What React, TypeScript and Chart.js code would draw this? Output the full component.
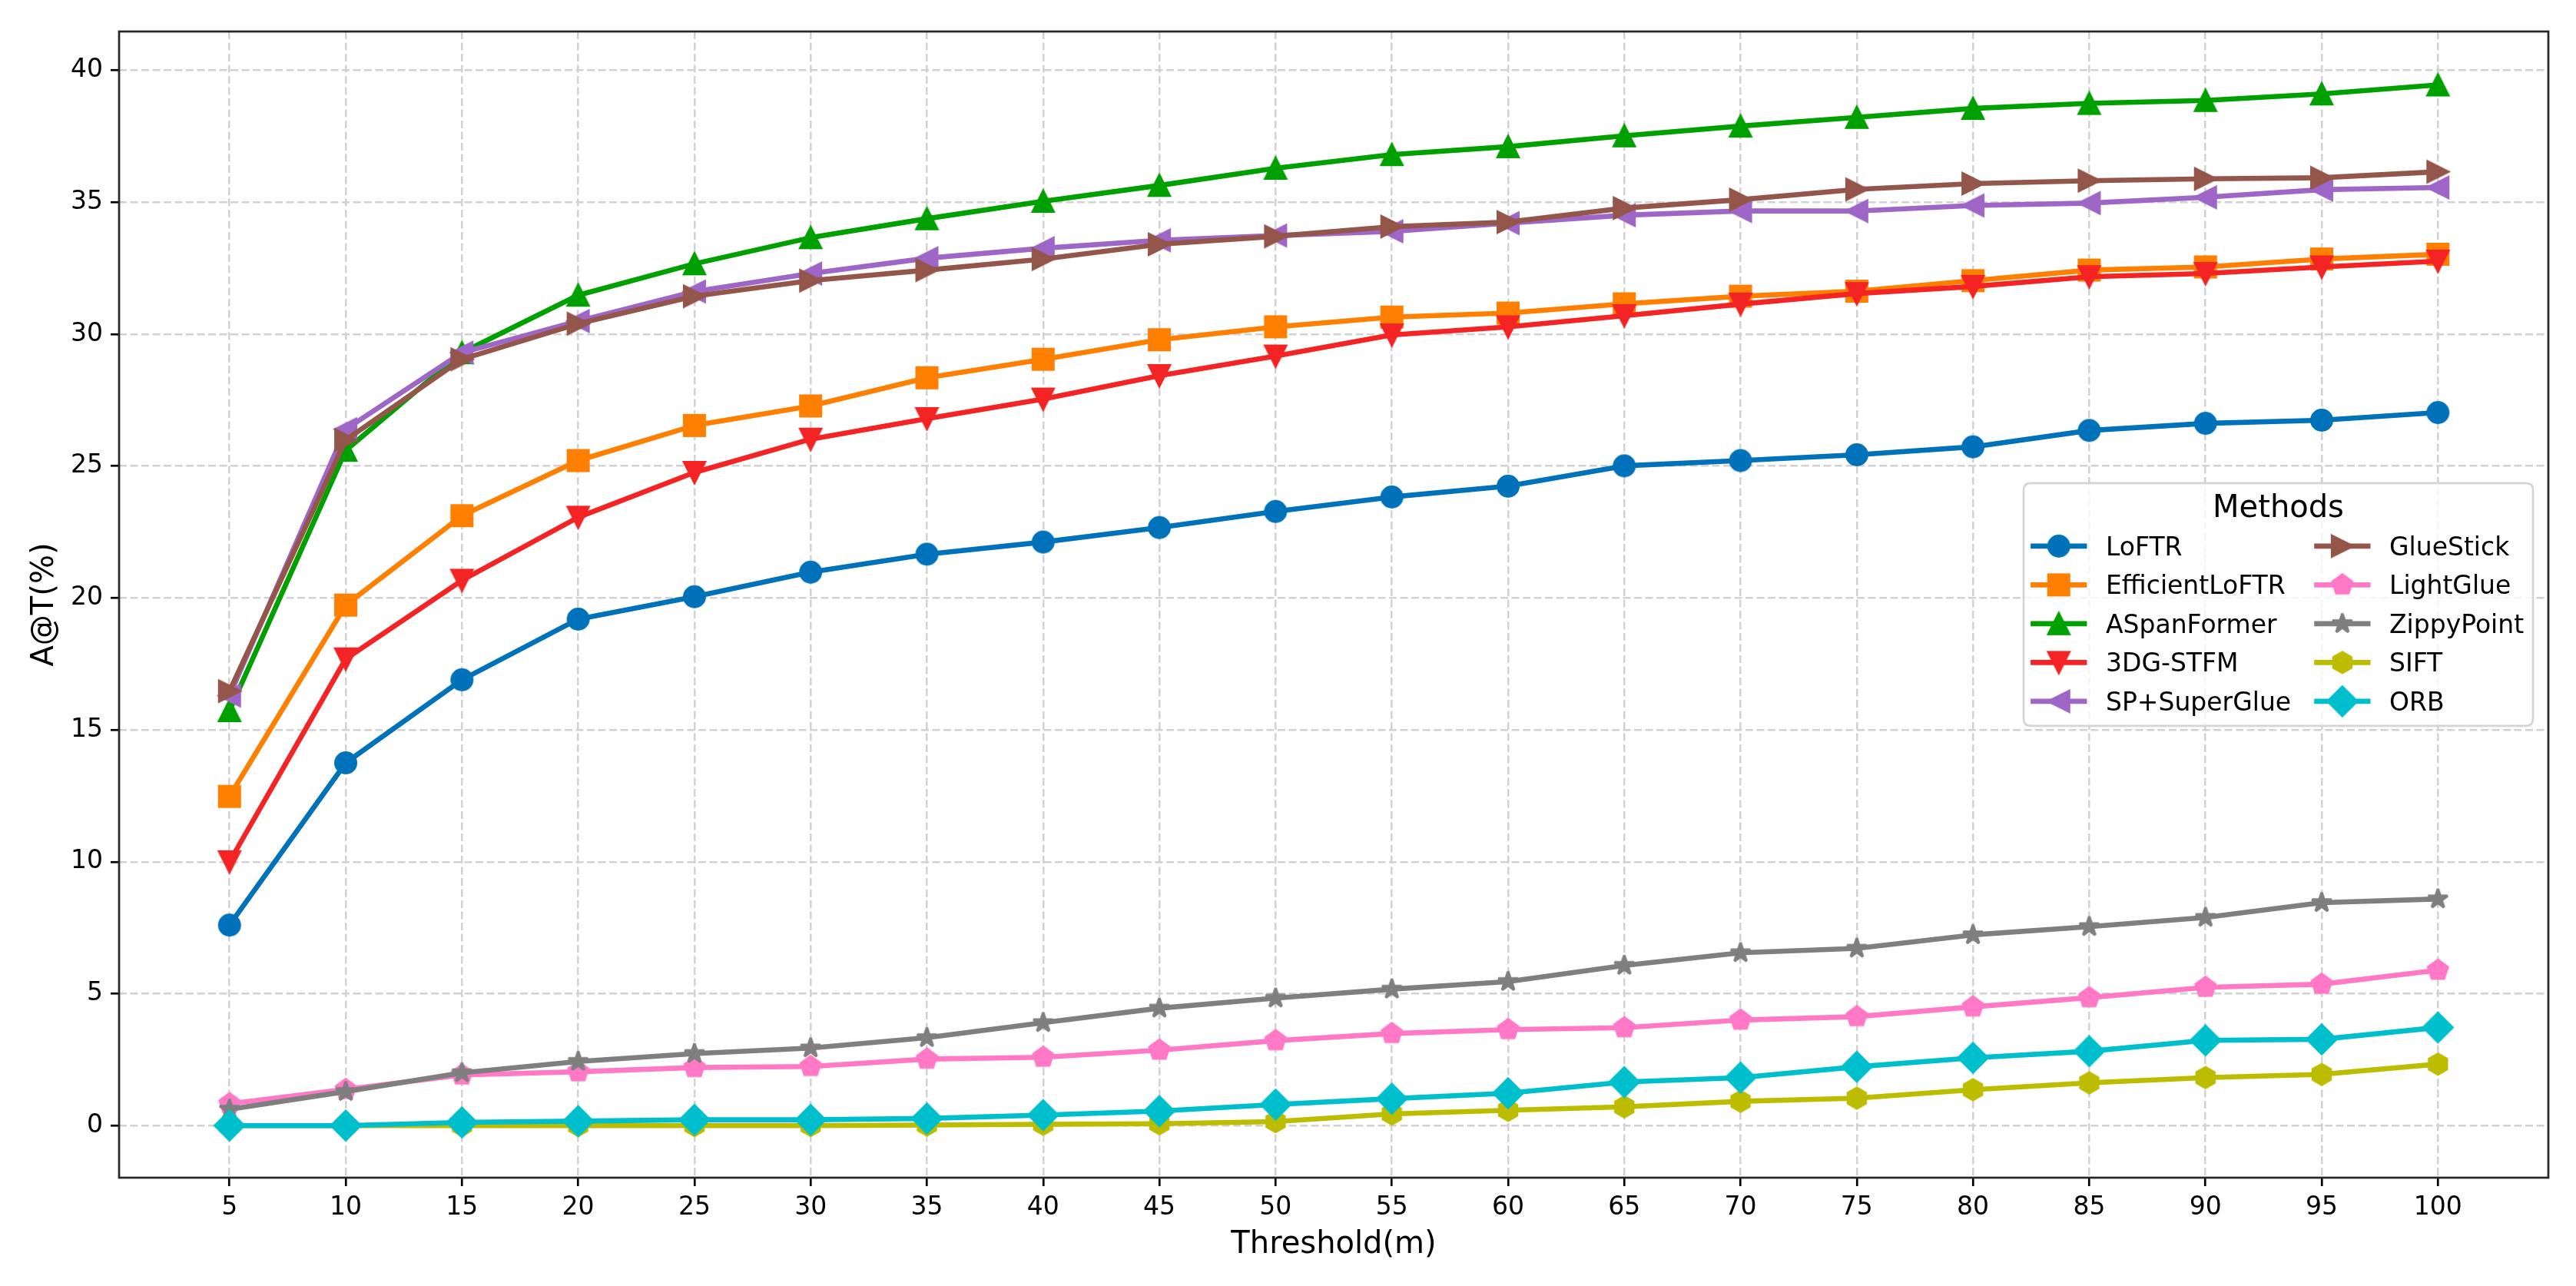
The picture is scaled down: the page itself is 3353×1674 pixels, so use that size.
import React, { useEffect, useRef } from 'react';
import { Chart, registerables } from 'chart.js';

Chart.register(...registerables);

// ---------- data ----------
const thresholds = [5, 10, 15, 20, 25, 30, 35, 40, 45, 50, 55, 60, 65, 70, 75, 80, 85, 90, 95, 100];
const yTickValues = [0, 5, 10, 15, 20, 25, 30, 35, 40];

const methodNames = [
  'LoFTR', 'EfficientLoFTR', 'ASpanFormer', '3DG-STFM', 'SP+SuperGlue',
  'GlueStick', 'LightGlue', 'ZippyPoint', 'SIFT', 'ORB',
];

const loftr = [7.6, 13.75, 16.9, 19.2, 20.05, 20.98, 21.66, 22.12, 22.67, 23.28, 23.83, 24.24, 25.01, 25.21, 25.43, 25.73, 26.35, 26.62, 26.74, 27.03];
const efficientLoftr = [12.48, 19.73, 23.12, 25.21, 26.54, 27.28, 28.35, 29.05, 29.79, 30.28, 30.65, 30.8, 31.15, 31.44, 31.63, 32.03, 32.43, 32.55, 32.85, 33.03];
const aspanFormer = [15.73, 25.6, 29.3, 31.48, 32.67, 33.66, 34.38, 35.04, 35.64, 36.29, 36.81, 37.11, 37.52, 37.89, 38.22, 38.56, 38.75, 38.86, 39.11, 39.45];
const dgStfm = [10.0, 17.69, 20.67, 23.06, 24.76, 26.02, 26.8, 27.54, 28.43, 29.17, 29.97, 30.28, 30.7, 31.14, 31.54, 31.81, 32.18, 32.3, 32.55, 32.77];
const spSuperGlue = [16.3, 26.4, 29.3, 30.5, 31.62, 32.3, 32.88, 33.26, 33.56, 33.74, 33.9, 34.21, 34.51, 34.67, 34.67, 34.88, 34.97, 35.19, 35.48, 35.56];
const glueStick = [16.47, 25.99, 29.05, 30.4, 31.44, 32.03, 32.43, 32.85, 33.41, 33.71, 34.08, 34.25, 34.78, 35.1, 35.49, 35.71, 35.82, 35.89, 35.93, 36.16];
const lightGlue = [0.83, 1.37, 1.92, 2.04, 2.2, 2.24, 2.52, 2.59, 2.86, 3.22, 3.49, 3.64, 3.71, 4.0, 4.13, 4.5, 4.85, 5.24, 5.36, 5.89];
const zippyPoint = [0.62, 1.29, 2.0, 2.43, 2.73, 2.94, 3.33, 3.9, 4.45, 4.83, 5.17, 5.46, 6.07, 6.55, 6.72, 7.23, 7.54, 7.89, 8.45, 8.59];
const sift = [0.0, 0.0, 0.0, 0.0, 0.0, 0.0, 0.02, 0.05, 0.07, 0.15, 0.44, 0.58, 0.71, 0.92, 1.04, 1.36, 1.62, 1.82, 1.94, 2.33];
const orb = [0.0, 0.0, 0.12, 0.17, 0.22, 0.22, 0.27, 0.4, 0.55, 0.8, 1.02, 1.23, 1.65, 1.82, 2.23, 2.57, 2.82, 3.23, 3.27, 3.72];

const seriesValues = [loftr, efficientLoftr, aspanFormer, dgStfm, spSuperGlue, glueStick, lightGlue, zippyPoint, sift, orb];

const seriesColors = [
  '#0072BA', '#FF7F00', '#00A000', '#F42424', '#9E66C6',
  '#94564A', '#FF79C6', '#7F7F7F', '#BCBC00', '#00BFCC',
];
const seriesMarkers = ['o', 's', '^', 'v', '<', '>', 'p', '*', 'h', 'D'];

// ---------- style ----------
const FONT = "'DejaVu Sans', 'Liberation Sans', sans-serif";
const MS = 26.7; // marker size px
const MEW = 3.33; // marker edge width px
const LW = 6.6; // line width px

function polygonPath(ctx: CanvasRenderingContext2D, n: number, r: number) {
  for (let k = 0; k < n; k++) {
    const t = (2 * Math.PI * k) / n + Math.PI / 2;
    const px = r * Math.cos(t);
    const py = -r * Math.sin(t);
    if (k === 0) ctx.moveTo(px, py);
    else ctx.lineTo(px, py);
  }
}

function starPath(ctx: CanvasRenderingContext2D, r: number, inner: number) {
  for (let k = 0; k < 10; k++) {
    const t = (2 * Math.PI * k) / 10 + Math.PI / 2;
    const rr = k % 2 === 0 ? r : r * inner;
    const px = rr * Math.cos(t);
    const py = -rr * Math.sin(t);
    if (k === 0) ctx.moveTo(px, py);
    else ctx.lineTo(px, py);
  }
}

function markerPath(ctx: CanvasRenderingContext2D, shape: string, s: number) {
  const h = s / 2;
  ctx.beginPath();
  switch (shape) {
    case 'o':
      ctx.arc(0, 0, h, 0, Math.PI * 2);
      break;
    case 's':
      ctx.rect(-h, -h, s, s);
      break;
    case '^':
      ctx.moveTo(0, -h); ctx.lineTo(-h, h); ctx.lineTo(h, h);
      break;
    case 'v':
      ctx.moveTo(0, h); ctx.lineTo(-h, -h); ctx.lineTo(h, -h);
      break;
    case '<':
      ctx.moveTo(-h, 0); ctx.lineTo(h, -h); ctx.lineTo(h, h);
      break;
    case '>':
      ctx.moveTo(h, 0); ctx.lineTo(-h, -h); ctx.lineTo(-h, h);
      break;
    case 'p':
      polygonPath(ctx, 5, h);
      break;
    case 'h':
      polygonPath(ctx, 6, h);
      break;
    case '*':
      starPath(ctx, h, 0.381966);
      break;
    case 'D': {
      const d = h * Math.SQRT2;
      ctx.moveTo(0, -d); ctx.lineTo(d, 0); ctx.lineTo(0, d); ctx.lineTo(-d, 0);
      break;
    }
    default:
      ctx.arc(0, 0, h, 0, Math.PI * 2);
  }
  ctx.closePath();
}

function makeMarker(shape: string, color: string): HTMLCanvasElement {
  const size = 56;
  const c = document.createElement('canvas');
  c.width = size;
  c.height = size;
  const ctx = c.getContext('2d') as CanvasRenderingContext2D;
  ctx.translate(size / 2, size / 2);
  markerPath(ctx, shape, MS);
  ctx.fillStyle = color;
  ctx.fill();
  ctx.lineWidth = MEW;
  ctx.strokeStyle = color;
  ctx.lineJoin = shape === 'o' ? 'round' : shape === '*' ? 'bevel' : 'miter';
  ctx.stroke();
  return c;
}

const framePlugin = {
  id: 'mplFrame',
  afterDatasetsDraw(chart: any) {
    const { ctx, chartArea: a } = chart;
    ctx.save();
    ctx.strokeStyle = '#262626';
    ctx.lineWidth = 2.7;
    ctx.setLineDash([]);
    ctx.strokeRect(a.left, a.top, a.right - a.left, a.bottom - a.top);
    ctx.restore();
  },
};

const legendPlugin = {
  id: 'mplLegend',
  afterDraw(chart: any) {
    const { ctx, chartArea: a } = chart;
    const markersImg: HTMLCanvasElement[] = chart.$mplMarkers || [];
    const W = 663;
    const H = 316;
    const x0 = a.right - 20 - W;
    const y0 = a.top + 0.394 * (a.bottom - a.top);
    ctx.save();
    ctx.setLineDash([]);
    // frame
    const r = 9;
    ctx.beginPath();
    ctx.moveTo(x0 + r, y0);
    ctx.lineTo(x0 + W - r, y0);
    ctx.quadraticCurveTo(x0 + W, y0, x0 + W, y0 + r);
    ctx.lineTo(x0 + W, y0 + H - r);
    ctx.quadraticCurveTo(x0 + W, y0 + H, x0 + W - r, y0 + H);
    ctx.lineTo(x0 + r, y0 + H);
    ctx.quadraticCurveTo(x0, y0 + H, x0, y0 + H - r);
    ctx.lineTo(x0, y0 + r);
    ctx.quadraticCurveTo(x0, y0, x0 + r, y0);
    ctx.closePath();
    ctx.fillStyle = 'rgba(255,255,255,0.8)';
    ctx.fill();
    ctx.strokeStyle = '#d4d4d4';
    ctx.lineWidth = 2.7;
    ctx.stroke();

    // title
    ctx.fillStyle = '#000';
    ctx.font = `40px ${FONT}`;
    ctx.textAlign = 'center';
    ctx.textBaseline = 'alphabetic';
    ctx.fillText('Methods', x0 + W / 2, y0 + 44);

    // entries
    ctx.font = `33px ${FONT}`;
    ctx.textAlign = 'left';
    const datasets = chart.data.datasets;
    datasets.forEach((ds: any, i: number) => {
      const col = i < 5 ? 0 : 1;
      const row = i % 5;
      const cy = y0 + 82 + row * 50.5;
      const hx = x0 + (col === 0 ? 12.4 : 381.5);
      const tx = x0 + (col === 0 ? 107 : 476);
      ctx.beginPath();
      ctx.strokeStyle = ds.borderColor;
      ctx.lineWidth = LW;
      ctx.lineCap = 'square';
      ctx.moveTo(hx, cy);
      ctx.lineTo(hx + 66.7, cy);
      ctx.stroke();
      const img = markersImg[i];
      if (img) ctx.drawImage(img, hx + 33.35 - img.width / 2, cy - img.height / 2);
      ctx.fillStyle = '#000';
      ctx.fillText(ds.label, tx, cy + 12);
    });
    ctx.restore();
  },
};

export default function App() {
  const canvasRef = useRef<HTMLCanvasElement | null>(null);

  useEffect(() => {
    document.body.style.margin = '0';
    document.body.style.overflow = 'hidden';
    const canvas = canvasRef.current;
    if (!canvas) return;

    const markerImgs = seriesMarkers.map((m, i) => makeMarker(m, seriesColors[i]));

    const datasets = methodNames.map((name, i) => ({
      label: name,
      data: thresholds.map((x, j) => ({ x, y: seriesValues[i][j] })),
      borderColor: seriesColors[i],
      backgroundColor: seriesColors[i],
      borderWidth: LW,
      borderJoinStyle: 'round' as const,
      borderCapStyle: 'square' as const,
      pointStyle: markerImgs[i],
      pointRadius: 14,
      pointHoverRadius: 14,
      fill: false,
      tension: 0,
      order: methodNames.length - 1 - i,
    }));

    const tickFont = { family: FONT, size: 33, lineHeight: 1.2 };
    const titleFont = { family: FONT, size: 40, lineHeight: 1.2 };

    const chart = new Chart(canvas, {
      type: 'line',
      data: { datasets },
      options: {
        animation: false,
        responsive: true,
        maintainAspectRatio: false,
        events: [],
        layout: { padding: { left: 0, right: 36, top: 41, bottom: 0 } },
        plugins: {
          legend: { display: false },
          tooltip: { enabled: false },
        },
        scales: {
          x: {
            type: 'linear',
            min: 0.25,
            max: 104.75,
            afterBuildTicks: (scale: any) => {
              scale.ticks = thresholds.map((v) => ({ value: v }));
            },
            afterFit: (scale: any) => {
              scale.height = 141;
            },
            ticks: {
              font: tickFont,
              color: '#000',
              padding: 9,
              maxRotation: 0,
              minRotation: 0,
              autoSkip: false,
              callback: (v: any) => String(v),
            },
            grid: {
              color: '#d2d2d2',
              lineWidth: 2.5,
              drawTicks: true,
              tickLength: 11,
              tickColor: '#000',
              tickWidth: 2.7,
              tickBorderDash: [],
            },
            border: { display: false, dash: [10, 4.5] },
            title: {
              display: true,
              text: 'Threshold(m)',
              font: titleFont,
              color: '#000',
              padding: { top: 0, bottom: 29 },
            },
          },
          y: {
            type: 'linear',
            min: -1.975,
            max: 41.475,
            afterBuildTicks: (scale: any) => {
              scale.ticks = yTickValues.map((v) => ({ value: v }));
            },
            afterFit: (scale: any) => {
              scale.width = 155;
            },
            ticks: {
              font: tickFont,
              color: '#000',
              padding: 10,
              callback: (v: any) => String(v),
            },
            grid: {
              color: '#d2d2d2',
              lineWidth: 2.5,
              drawTicks: true,
              tickLength: 11,
              tickColor: '#000',
              tickWidth: 2.7,
              tickBorderDash: [],
            },
            border: { display: false, dash: [10, 4.5] },
            title: {
              display: true,
              text: 'A@T(%)',
              font: titleFont,
              color: '#000',
              padding: { top: 35, bottom: 0 },
            },
          },
        },
      },
      plugins: [framePlugin, legendPlugin],
    } as any);
    (chart as any).$mplMarkers = markerImgs;
    chart.draw();

    return () => {
      chart.destroy();
    };
  }, []);

  return (
    <div style={{ width: '3353px', height: '1674px', position: 'relative', background: '#fff' }}>
      <canvas ref={canvasRef} />
    </div>
  );
}
